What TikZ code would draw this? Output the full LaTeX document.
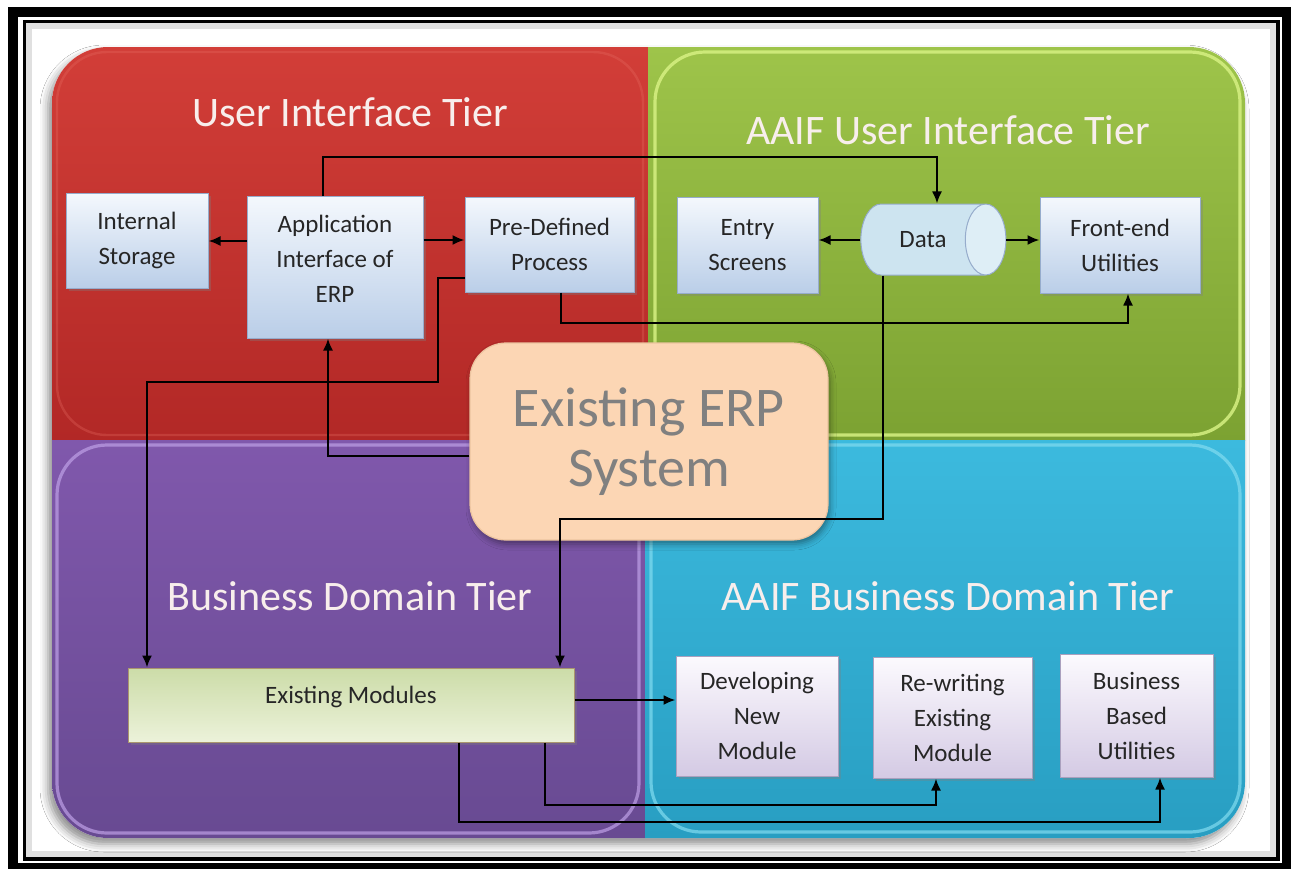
\documentclass[tikz,border=0pt]{standalone}
\usepackage{fontspec}
\setmainfont{Carlito}
\usetikzlibrary{shapes.geometric,arrows.meta,shadows,shadows.blur,calc}
\definecolor{redT}{RGB}{210,62,56}
\definecolor{redB}{RGB}{178,40,38}
\definecolor{redHL}{RGB}{232,110,100}
\definecolor{grnT}{RGB}{158,196,74}
\definecolor{grnB}{RGB}{124,162,50}
\definecolor{grnHL}{RGB}{214,240,130}
\definecolor{purT}{RGB}{128,88,172}
\definecolor{purB}{RGB}{104,74,146}
\definecolor{purHL}{RGB}{190,160,230}
\definecolor{bluT}{RGB}{60,186,222}
\definecolor{bluB}{RGB}{40,158,194}
\definecolor{bluHL}{RGB}{130,220,240}
\definecolor{bxT}{RGB}{244,248,253}
\definecolor{bxB}{RGB}{186,206,232}
\definecolor{bxD}{RGB}{150,172,204}
\definecolor{cyB}{RGB}{205,228,240}
\definecolor{cyE}{RGB}{222,238,246}
\definecolor{lvT}{RGB}{252,250,254}
\definecolor{lvB}{RGB}{212,202,228}
\definecolor{lvD}{RGB}{170,160,190}
\definecolor{mdT}{RGB}{204,220,168}
\definecolor{mdB}{RGB}{236,242,218}
\definecolor{mdD}{RGB}{170,150,110}
\definecolor{erpF}{RGB}{252,214,180}
\definecolor{erpD}{RGB}{236,196,160}
\definecolor{erpT}{RGB}{128,128,128}
\definecolor{txt}{RGB}{38,38,38}
\definecolor{ttl}{RGB}{248,238,236}
\tikzset{
  boxfont/.style={font=\fontsize{12.5}{17.5}\selectfont, text=txt, align=center},
  bluebox/.style={boxfont, draw=bxD, line width=0.5pt, top color=bxT, bottom color=bxB, inner sep=0pt,
    drop shadow={shadow xshift=1.5pt, shadow yshift=-1.5pt, opacity=0.35}},
  lavbox/.style={boxfont, draw=lvD, line width=0.5pt, top color=lvT, bottom color=lvB, inner sep=0pt,
    drop shadow={shadow xshift=1.5pt, shadow yshift=-1.5pt, opacity=0.35}},
  tiertitle/.style={font=\fontsize{21}{25}\selectfont, text=ttl},
  conn/.style={draw=black, line width=1pt, -{Latex[length=6pt,width=5pt]}},
}
\begin{document}
\begin{tikzpicture}[x=0.5pt,y=-0.5pt]
\useasboundingbox (0,0) rectangle (1291,869);
% frame
\fill[white] (0,0) rectangle (1291,869);
\fill[black] (8,7) rectangle (1291,869);
\fill[white] (18,17) rectangle (1282,863);
\draw[black, line width=2pt] (24.5,21.5) rectangle (1277.5,859);
\fill[white] (26.5,23.5) rectangle (1275.5,857);
\draw[black!12, line width=3pt] (29,26) rectangle (1273,854);
% panels
\path[fill=white, rounded corners=28pt, blur shadow={shadow xshift=-2pt, shadow yshift=-3pt, shadow blur radius=4pt, shadow opacity=45}] (52,47) rectangle (1245,838);
\begin{scope}
\clip[rounded corners=28pt] (52,47) rectangle (1245,838);
\shade[top color=redT, bottom color=redB] (52,47) rectangle (648,440);
\shade[top color=grnT, bottom color=grnB] (648,47) rectangle (1245,440);
\shade[top color=purT, bottom color=purB] (52,440) rectangle (645,838);
\shade[top color=bluT, bottom color=bluB] (645,440) rectangle (1245,838);
\draw[redHL, line width=1.2pt, opacity=0.3, rounded corners=25pt] (57,52) rectangle (643,435);
\draw[grnHL, line width=1.6pt, opacity=0.85, rounded corners=25pt] (655,52) rectangle (1240,435);
\draw[purHL, line width=1.6pt, opacity=0.7, rounded corners=25pt] (57,445) rectangle (639,833);
\draw[bluHL, line width=1.6pt, opacity=0.7, rounded corners=25pt] (651,445) rectangle (1240,832);
\end{scope}
% titles
\node[tiertitle] (t1) at (350,112) {User Interface Tier};
\node[tiertitle] (t2) at (948,130) {AAIF User Interface Tier};
\node[tiertitle] (t3) at (350,596) {Business Domain Tier};
\node[tiertitle] (t4) at (948,596) {AAIF Business Domain Tier};
% nodes
\node[bluebox, minimum width=71pt, minimum height=47.5pt] (stor) at (137,240.5) {Internal\\Storage};
\node[bluebox, minimum width=88pt, minimum height=71pt] (app) at (335,267) {Application\\Interface of\\ERP\rule[-8pt]{0pt}{8pt}};
\node[bluebox, minimum width=84.5pt, minimum height=47.5pt] (pre) at (549.5,244.5) {Pre-Defined\\Process};
\node[bluebox, minimum width=70.5pt, minimum height=48pt] (entry) at (747.5,245) {Entry\\Screens};
\node[bluebox, minimum width=80pt, minimum height=48pt] (front) at (1120,245) {Front-end\\Utilities};
\node[boxfont, shape=cylinder, shape aspect=2.5, draw=bxD, line width=0.5pt, cylinder uses custom fill,
  cylinder body fill=cyB, cylinder end fill=cyE, inner sep=0pt,
  minimum width=35.5pt, minimum height=72.5pt] (data) at (923,239.5) {Data};
\node[draw=erpD, line width=0.6pt, fill=erpF, rounded corners=18pt, minimum width=179pt, minimum height=98.5pt,
  align=center, font=\fontsize{28}{30}\selectfont, text=erpT,
  blur shadow={shadow xshift=1pt, shadow yshift=-2pt, shadow blur radius=3pt}] (erp) at (649,441.5) {Existing ERP\\System};
\node[draw=mdD, line width=0.5pt, top color=mdT, bottom color=mdB, minimum width=223pt, minimum height=37pt, inner sep=0pt,
  drop shadow={shadow xshift=1.5pt, shadow yshift=-1.5pt, opacity=0.35},
  label={[boxfont, yshift=4pt]center:Existing Modules}] (mods) at (351,705) {};
\node[lavbox, minimum width=81pt, minimum height=60pt] (dev) at (757,716) {Developing\\New\\Module};
\node[lavbox, minimum width=79.5pt, minimum height=60.5pt] (rew) at (952.5,717.5) {Re-writing\\Existing\\Module};
\node[lavbox, minimum width=76.5pt, minimum height=61.5pt] (biz) at (1136.5,715.5) {Business\\Based\\Utilities};
% connectors
\draw[conn] (app.west |- 0,241) -- (stor.east |- 0,241);
\draw[conn] (app.east |- 0,240) -- (pre.west |- 0,240);
\draw[conn] (323,0 |- app.north) |- (937,157) -- (937,0 |- data.north);
\draw[conn] (data.west |- 0,240) -- (entry.east |- 0,240);
\draw[conn] (data.east |- 0,240) -- (front.west |- 0,240);
\draw[conn] (561,0 |- pre.south) |- (1128,323) -- (1128,0 |- front.south);
\draw[conn] (pre.west |- 0,278) -| (438,382) -| (147,0 |- mods.north);
\draw[conn] (erp.west |- 0,456) -| (328,0 |- app.south);
\draw[conn] (883,0 |- data.south) |- (560,519) -- (560,0 |- mods.north);
\draw[conn] (mods.east |- 0,700) -- (dev.west |- 0,700);
\draw[conn] (545,0 |- mods.south) |- (936,805) -- (936,0 |- rew.south);
\draw[conn] (459,0 |- mods.south) |- (1160,822) -- (1160,0 |- biz.south);
\end{tikzpicture}
\end{document}
